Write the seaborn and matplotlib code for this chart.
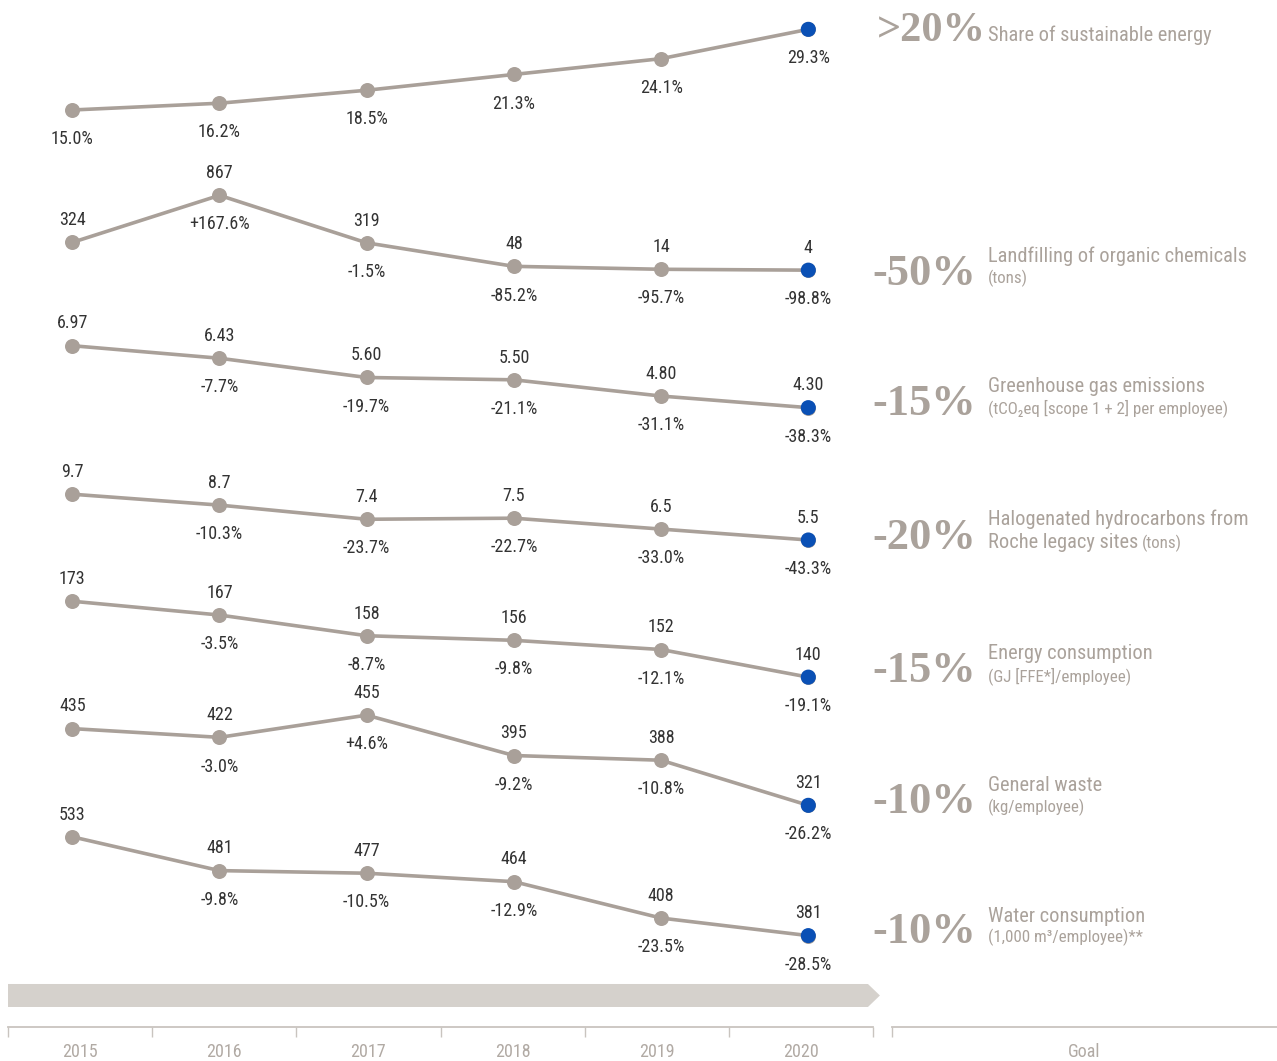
import numpy as np
import matplotlib
matplotlib.use("Agg")
import matplotlib.pyplot as plt
import matplotlib.transforms as mtransforms
from matplotlib.patches import Polygon
from matplotlib import font_manager
import seaborn as sns

# ---------------- data ----------------
years = [2015, 2016, 2017, 2018, 2019, 2020]

sustainable_energy = [15.0, 16.2, 18.5, 21.3, 24.1, 29.3]
landfill_values = [324, 867, 319, 48, 14, 4]
landfill_change = [None, 167.6, -1.5, -85.2, -95.7, -98.8]
ghg_values = [6.97, 6.43, 5.60, 5.50, 4.80, 4.30]
ghg_change = [None, -7.7, -19.7, -21.1, -31.1, -38.3]
halogen_values = [9.7, 8.7, 7.4, 7.5, 6.5, 5.5]
halogen_change = [None, -10.3, -23.7, -22.7, -33.0, -43.3]
energy_values = [173, 167, 158, 156, 152, 140]
energy_change = [None, -3.5, -8.7, -9.8, -12.1, -19.1]
waste_values = [435, 422, 455, 395, 388, 321]
waste_change = [None, -3.0, 4.6, -9.2, -10.8, -26.2]
water_values = [533, 481, 477, 464, 408, 381]
water_change = [None, -9.8, -10.5, -12.9, -23.5, -28.5]

goals = [">20%", "-50%", "-15%", "-20%", "-15%", "-10%", "-10%"]
titles = ["Share of sustainable energy", "Landfilling of organic chemicals",
          "Greenhouse gas emissions", "Halogenated hydrocarbons from",
          "Energy consumption", "General waste", "Water consumption"]
subtitles = [None, "(tons)", "(tCO\u2082eq [scope 1 + 2] per employee)", None,
             "(GJ [FFE*]/employee)", "(kg/employee)", "(1,000 m\u00b3/employee)**"]
goal_axis_label = "Goal"

# ---------------- style ----------------
W, H = 1277, 1061
sns.set_theme(style="white")
names = {f.name for f in font_manager.fontManager.ttflist}
COND = next((n for n in ["Roboto Condensed", "Liberation Sans Narrow", "Open Sans Condensed",
                         "Noto Sans Condensed", "Roboto"] if n in names), "DejaVu Sans")
SANS = [COND, "DejaVu Sans"]
SERIF = ["Liberation Serif", "DejaVu Serif"]
plt.rcParams["font.family"] = SANS

GRAY = "#a9a099"
BLUE = "#0a50b5"
LABEL = "#333333"
TEXTGRAY = "#aaa29b"
AXISGRAY = "#c9c4bf"
BAND = "#d5d1cc"

fig = plt.figure(figsize=(W / 100, H / 100), dpi=100)
fig.patch.set_facecolor("white")

XLIM = (2014.509, 2023.184)
rows = [
    dict(v=sustainable_energy, c=None, fmt="{:.1f}%", ylim=(-153.6, 34.5), below_only=True),
    dict(v=landfill_values, c=landfill_change, fmt="{:.0f}", ylim=(-9118, 3120)),
    dict(v=ghg_values, c=ghg_change, fmt="{:.2f}", ylim=(-23.86, 21.87)),
    dict(v=halogen_values, c=halogen_change, fmt="{:.1f}", ylim=(-42.30, 55.04)),
    dict(v=energy_values, c=energy_change, fmt="{:.0f}", ylim=(-26.9, 434.4)),
    dict(v=waste_values, c=waste_change, fmt="{:.0f}", ylim=(-58.9, 1517.6)),
    dict(v=water_values, c=water_change, fmt="{:.0f}", ylim=(188.1, 1820.4)),
]

LBL_SIZE = 13
for r in rows:
    ax = fig.add_axes([0, 0, 1, 1])
    ax.set_facecolor("none")
    ax.set_axis_off()
    sns.lineplot(x=years, y=r["v"], ax=ax, color=GRAY, linewidth=2.6, marker="o",
                 markersize=10.8, markeredgewidth=0, markerfacecolor=GRAY)
    sns.scatterplot(x=[years[-1]], y=[r["v"][-1]], ax=ax, color=BLUE, s=118,
                    edgecolor="none", zorder=5)
    ax.set_xlim(*XLIM)
    ax.set_ylim(*r["ylim"])
    for i, (yr, val) in enumerate(zip(years, r["v"])):
        if r.get("below_only"):
            ax.annotate(r["fmt"].format(val), (yr, val), xytext=(0, -21), textcoords="offset points",
                        ha="center", va="center", fontsize=LBL_SIZE, color=LABEL)
        else:
            ax.annotate(r["fmt"].format(val), (yr, val), xytext=(0, 16), textcoords="offset points",
                        ha="center", va="center", fontsize=LBL_SIZE, color=LABEL)
            ch = r["c"][i]
            if ch is not None:
                s = ("+" if ch > 0 else "") + f"{ch:.1f}%"
                ax.annotate(s, (yr, val), xytext=(0, -21), textcoords="offset points",
                            ha="center", va="center", fontsize=LBL_SIZE, color=LABEL)


def ftext(xpx, ypx, s, **kw):
    return fig.text(xpx / W, 1 - ypx / H, s, **kw)


# right-hand goal column
goal_x = [877, 872, 872, 872, 872, 872, 872]
goal_size = [30.5, 32, 32, 32, 32, 32, 32]
goal_base = [41, 285, 415, 549, 682, 813, 943]
title_base = [41, 262, 392, 525, 659, 791, 922]
sub_base = [None, 283, 413, None, 681, 812, 942]
TITLE_SIZE = 14.7
SUB_SIZE = 12.2
for k in range(7):
    ftext(goal_x[k], goal_base[k], goals[k], fontsize=goal_size[k], fontweight="bold", family=SERIF,
          color=TEXTGRAY, va="baseline", ha="left")
    ftext(988, title_base[k], titles[k], fontsize=TITLE_SIZE, color=TEXTGRAY, va="baseline", ha="left")
    if subtitles[k]:
        ftext(988, sub_base[k], subtitles[k], fontsize=SUB_SIZE, color=TEXTGRAY, va="baseline",
              ha="left", family=SANS)

# second line of halogenated
t = ftext(988, 548, "Roche legacy sites", fontsize=TITLE_SIZE, color=TEXTGRAY, va="baseline", ha="left")
fig.canvas.draw()
w = t.get_window_extent(renderer=fig.canvas.get_renderer()).width
ftext(988 + w + 4, 548, "(tons)", fontsize=SUB_SIZE, color=TEXTGRAY, va="baseline", ha="left")

# bottom time axis
ax_t = fig.add_axes([8 / W, (H - 1027) / H, 865 / W, 52 / H])
ax_g = fig.add_axes([892 / W, (H - 1027) / H, 385 / W, 52 / H])
for a, n in [(ax_t, 6), (ax_g, 1)]:
    a.set_facecolor("none")
    for sp in ["top", "left", "right"]:
        a.spines[sp].set_visible(False)
    a.spines["bottom"].set_color(AXISGRAY)
    a.spines["bottom"].set_linewidth(1.3)
    a.set_xlim(0, n)
    a.set_ylim(0, 1)
    a.set_yticks([])
    a.set_xticks(np.arange(n + 1) if n > 1 else [0])
    a.set_xticklabels([])
    a.set_xticks(np.arange(n) + 0.5, minor=True)
    a.tick_params(axis="x", which="major", direction="out", length=7, width=1, color=AXISGRAY, bottom=True)
    a.tick_params(axis="x", which="minor", length=0, pad=11.5, labelsize=13, labelcolor="#b1aaa4", bottom=True)
ax_t.set_xticklabels([str(y) for y in years], minor=True)
ax_g.set_xticklabels([goal_axis_label], minor=True)

tr = mtransforms.blended_transform_factory(ax_t.transData, ax_t.transAxes)
band = Polygon([(0, 0.385), (5.965, 0.385), (6.048, 0.606), (5.965, 0.827), (0, 0.827)],
               closed=True, facecolor=BAND, edgecolor="none", transform=tr, clip_on=False)
ax_t.add_patch(band)

fig.savefig("out.png", dpi=100, facecolor="white")
